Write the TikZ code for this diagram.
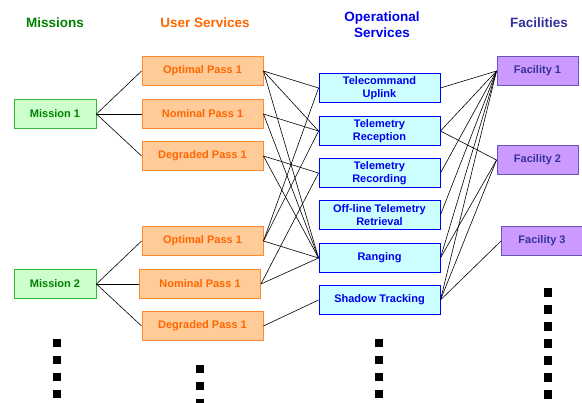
\documentclass[tikz,border=0pt]{standalone}
\usepackage{fontspec}
\setmainfont{Liberation Sans}
\usetikzlibrary{positioning}

\definecolor{misfill}{HTML}{CCFFCC}
\definecolor{misline}{HTML}{33BB33}
\definecolor{mistext}{HTML}{008000}
\definecolor{usrfill}{HTML}{FFCC99}
\definecolor{usrline}{HTML}{FF8833}
\definecolor{usrtext}{HTML}{FF6600}
\definecolor{opsfill}{HTML}{CCFFFF}
\definecolor{opsline}{HTML}{0000FF}
\definecolor{opstext}{HTML}{0000EE}
\definecolor{facfill}{HTML}{CC99FF}
\definecolor{facline}{HTML}{6655BB}
\definecolor{factext}{HTML}{333399}

\begin{document}
\begin{tikzpicture}[x=1pt, y=-1pt]
	\tikzset{box/.style={draw, line width=0.9pt, inner sep=0pt, minimum height=29pt, align=center, font=\bfseries\fontsize{11}{13}\selectfont},
		mission/.style={box, fill=misfill, draw=misline, text=mistext, minimum width=82pt},
		usr/.style={box, fill=usrfill, draw=usrline, text=usrtext, minimum width=121pt},
		ops/.style={box, fill=opsfill, draw=opsline, text=opstext, minimum width=121pt},
		fac/.style={box, fill=facfill, draw=facline, text=factext, minimum width=81pt},
		head/.style={align=center, font=\bfseries\fontsize{13.5}{16}\selectfont},
		link/.style={line width=0.6pt}}

	\useasboundingbox (0,0) rectangle (582,403);

	% column headings
	\node[head, text=mistext] (h1) at (55,23) {Missions};
	\node[head, text=usrtext] (h2) at (205,23) {User Services};
	\node[head, text=opstext] (h3) at (382,25) {Operational\\Services};
	\node[head, text=factext] (h4) at (539,23) {Facilities};

	\node[mission] (m1) at (55,114) {Mission 1};
	\node[mission] (m2) at (55,284) {Mission 2};

	\node[usr] (u1) at (202.5,71) {Optimal Pass 1};
	\node[usr] (u2) at (202.5,114) {Nominal Pass 1};
	\node[usr] (u3) at (202.5,156) {Degraded Pass 1};
	\node[usr] (u4) at (202.5,241) {Optimal Pass 1};
	\node[usr] (u5) at (200,284) {Nominal Pass 1};
	\node[usr] (u6) at (202.5,326) {Degraded Pass 1};

	\node[ops] (o1) at (379.5,88) {Telecommand\\Uplink};
	\node[ops] (o2) at (379.5,131) {Telemetry\\Reception};
	\node[ops] (o3) at (379.5,173) {Telemetry\\Recording};
	\node[ops] (o4) at (379.5,215) {Off-line Telemetry\\Retrieval};
	\node[ops] (o5) at (379.5,258) {Ranging};
	\node[ops] (o6) at (379.5,300) {Shadow Tracking};

	\node[fac] (f1) at (537.5,71) {Facility 1};
	\node[fac] (f2) at (537.5,160) {Facility 2};
	\node[fac] (f3) at (542,241) {Facility 3};

	\foreach \a/\b in {m1/u1, m1/u2, m1/u3, m2/u4, m2/u5, m2/u6,
		u1/o1, u1/o2, u1/o5, u2/o2, u2/o5, u3/o3, u3/o5,
		u4/o1, u4/o2, u4/o5, u5/o3, u5/o5, u6/o6,
		o1/f1, o2/f1, o2/f2, o3/f1, o4/f1, o5/f1, o5/f2, o6/f1, o6/f2, o6/f3}
		\draw[link] (\a.east) -- (\b.west);

	% more to come
	\foreach \x/\y in {57/343, 57/360, 57/377, 57/394, 200/369, 200/386, 200/403,
		379/343, 379/360, 379/377, 379/394}
		\fill (\x,\y) +(-4.25,-4.25) rectangle +(4.25,4.25);
	\foreach \y in {292.5, 309.5, ..., 400}
		\fill (548,\y) +(-4.25,-4.25) rectangle +(4.25,4.25);
\end{tikzpicture}
\end{document}
